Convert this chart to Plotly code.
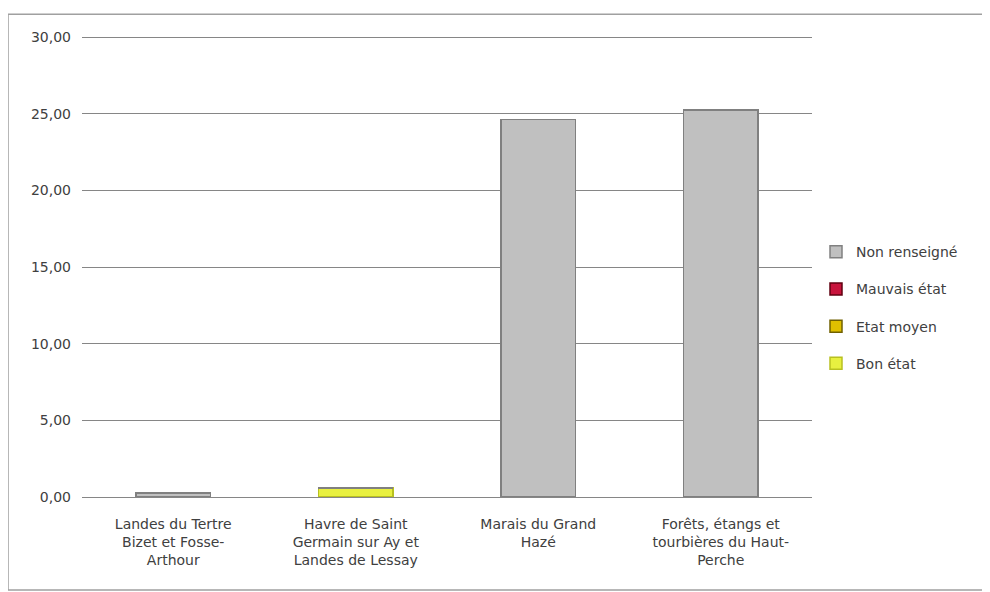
import plotly.graph_objects as go

categories = [
    "Landes du Tertre<br>Bizet et Fosse-<br>Arthour",
    "Havre de Saint<br>Germain sur Ay et<br>Landes de Lessay",
    "Marais du Grand<br>Hazé",
    "Forêts, étangs et<br>tourbières du Haut-<br>Perche",
]
bon_etat = [0.0, 0.6, 0.0, 0.0]
etat_moyen = [0.0, 0.0, 0.0, 0.0]
mauvais_etat = [0.0, 0.0, 0.0, 0.0]
non_renseigne = [0.25, 0.0, 24.65, 25.25]
y_ticks = [0, 5, 10, 15, 20, 25, 30]

series = [
    ("Bon état", bon_etat, "#e8f040", "#b8c020", 4),
    ("Etat moyen", etat_moyen, "#e0c000", "#706000", 3),
    ("Mauvais état", mauvais_etat, "#c8143c", "#600010", 2),
    ("Non renseigné", non_renseigne, "#c0c0c0", "#808080", 1),
]

fig = go.Figure()
for name, vals, col, line, rank in series:
    fig.add_trace(go.Bar(
        x=categories, y=vals, name=name, legendgroup=name, legendrank=rank,
        marker=dict(color=col, line=dict(color=line, width=1.5)),
    ))

# page is offset 8px by the body margin
OFF = 8
W, H = 990 - OFF, 592 - OFF
YMAX = 30.15
ph = 460 * YMAX / 30.0
t_abs = 497 - ph
l, r, t, b = 82 - OFF, 990 - 812, t_abs - OFF, 592 - 497
pw = W - l - r

FONT = "DejaVu Sans, Verdana, sans-serif"

fig.update_layout(
    width=W, height=H,
    barmode="stack", bargap=0.59,
    separators=", ",
    paper_bgcolor="white", plot_bgcolor="white",
    margin=dict(l=l, r=r, t=t, b=b, autoexpand=False),
    font=dict(family=FONT, size=14, color="#404040"),
    showlegend=True,
    legend=dict(
        x=(816 - 82) / pw, y=1 - (236 - t_abs) / ph,
        xanchor="left", yanchor="top",
        traceorder="grouped", tracegroupgap=16,
        font=dict(family=FONT, size=14, color="#404040"), bgcolor="rgba(0,0,0,0)",
        itemwidth=30,
    ),
    xaxis=dict(
        showgrid=False, showline=True, linecolor="#868686", linewidth=1,
        ticks="", ticklabelstandoff=14,
        tickfont=dict(family=FONT, size=14, color="#404040"),
    ),
    yaxis=dict(
        range=[0, YMAX], tickvals=y_ticks, tickformat=".2f",
        showgrid=True, gridcolor="#868686", gridwidth=1,
        zeroline=True, zerolinecolor="#868686", zerolinewidth=1,
        showline=False, ticks="", ticklabelstandoff=10,
        tickfont=dict(family=FONT, size=14, color="#404040"),
    ),
    shapes=[dict(
        type="rect", xref="paper", yref="paper",
        x0=(8 - 82) / pw, x1=(987 - 82) / pw,
        y0=-(590 - 497) / ph, y1=1 + (t_abs - 14) / ph,
        line=dict(color="#a0a0a0", width=1.5), fillcolor="rgba(0,0,0,0)", layer="below",
    )],
)

fig.write_html("out.html")
